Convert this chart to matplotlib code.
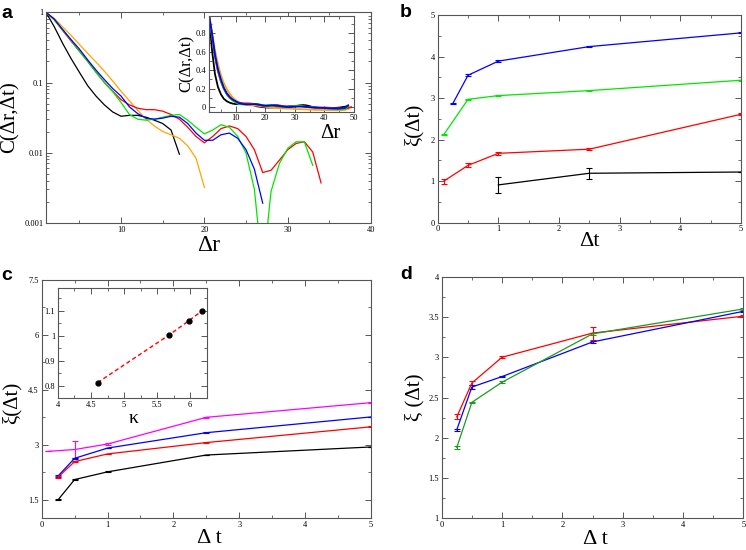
import numpy as np
import matplotlib.pyplot as plt
from matplotlib.ticker import MultipleLocator, FuncFormatter, LogLocator, NullFormatter

plt.rcParams['font.family'] = ['Liberation Serif', 'DejaVu Serif']

# ---- panel a : C(dr, dt), integer dr starting at 1
a_black = [1.0, 0.62, 0.36, 0.22, 0.14, 0.09, 0.064, 0.048, 0.038, 0.033, 0.034, 0.034,
           0.032, 0.029, 0.026, 0.021, 0.0095]
a_orange = [1.0, 0.82, 0.62, 0.47, 0.35, 0.26, 0.195, 0.145, 0.105, 0.075, 0.055, 0.04,
            0.03, 0.024, 0.020, 0.018, 0.016, 0.0125, 0.0083, 0.0032]
a_blue = [1.0, 0.8, 0.57, 0.41, 0.30, 0.21, 0.15, 0.11, 0.082, 0.064, 0.045, 0.036, 0.031,
          0.030, 0.031, 0.033, 0.032, 0.026, 0.019, 0.015, 0.015, 0.018, 0.019, 0.016,
          0.011, 0.0058, 0.0019]
a_red = [1.0, 0.78, 0.55, 0.39, 0.28, 0.2, 0.14, 0.1, 0.075, 0.057, 0.048, 0.043, 0.041,
         0.041, 0.039, 0.035, 0.030, 0.023, 0.017, 0.0138, 0.017, 0.022, 0.024, 0.022,
         0.017, 0.011, 0.0052, 0.0056, 0.0078, 0.011, 0.0135, 0.0143, 0.0102, 0.0037]
a_green = [1.0, 0.78, 0.56, 0.40, 0.28, 0.2, 0.14, 0.1, 0.074, 0.052, 0.035, 0.030, 0.029,
           0.030, 0.032, 0.034, 0.035, 0.029, 0.023, 0.0185, 0.021, 0.025, 0.023, 0.017,
           0.0098, 0.003, 0.0002, 0.0028, 0.007, 0.0115, 0.0143, 0.0142, 0.0066]
# inset tails (values after the end of each main curve, up to dr ~ 48)
tail_black = [0.005, 0.0, -0.003, -0.005, -0.004, -0.003, 0.0, 0.003, 0.005, 0.006, 0.008,
              0.01, 0.012, 0.015, 0.02, 0.022, 0.018, 0.01, 0.0, -0.005, -0.008, -0.01,
              -0.01, -0.012, -0.012, -0.01, -0.008, -0.005, 0.0, 0.005, 0.01]
tail_orange = [0.0, -0.005, -0.008, -0.01, -0.012, -0.013, -0.015, -0.016, -0.018, -0.02,
               -0.022, -0.022, -0.024, -0.025, -0.026, -0.028, -0.03, -0.03, -0.031,
               -0.032, -0.032, -0.033, -0.033, -0.034, -0.034, -0.033, -0.03, -0.02]
tail_blue = [0.0, 0.002, 0.004, 0.006, 0.006, 0.004, 0.002, 0.0, -0.003, -0.005, -0.006,
             -0.008, -0.01, -0.012, -0.014, -0.015, -0.016, -0.015, -0.012, -0.008, 0.02]
tail_red = [-0.002, -0.004, -0.006, -0.006, -0.005, -0.004, -0.006, -0.008, -0.01, -0.01,
            -0.011, -0.012, -0.012, -0.01, 0.0]
tail_green = [0.0, 0.002, 0.0, -0.004, -0.008, -0.01, -0.012, -0.014, -0.016, -0.018,
              -0.02, -0.022, -0.024, -0.02, 0.01]

# ---- panel b : xi(dt)
b_blue_t = [0.25, 0.5, 1, 2.5, 5]
b_blue = [2.87, 3.55, 3.89, 4.24, 4.57]
b_blue_err = [0.02, 0.02, 0.02, 0.01, 0.01]
b_green_t = [0.1, 0.5, 1, 2.5, 5]
b_green = [2.12, 2.97, 3.06, 3.18, 3.43]
b_green_err = [0.02, 0.02, 0.01, 0.01, 0.01]
b_red_t = [0.1, 0.5, 1, 2.5, 5]
b_red = [1.0, 1.38, 1.67, 1.77, 2.61]
b_red_err = [0.06, 0.05, 0.03, 0.02, 0.02]
b_black_t = [1, 2.5, 5]
b_black = [0.91, 1.19, 1.22]
b_black_err = [0.19, 0.13, 0.01]

# ---- panel c
c_t = [0.25, 0.5, 1, 2.5, 5]
c_magenta_t = [0.1, 0.5, 1, 2.5, 5]
c_magenta = [2.82, 2.87, 3.02, 3.75, 4.15]
c_magenta_err = [0.0, 0.24, 0.02, 0.01, 0.01]
c_blue = [2.15, 2.63, 2.91, 3.33, 3.76]
c_blue_err = [0.03, 0.02, 0.01, 0.01, 0.01]
c_red = [2.12, 2.54, 2.75, 3.06, 3.49]
c_red_err = [0.03, 0.02, 0.01, 0.01, 0.01]
c_black = [1.5, 2.05, 2.26, 2.72, 2.94]
c_black_err = [0.02, 0.02, 0.01, 0.01, 0.01]
kappa = [4.6, 5.68, 5.98, 6.18]
kappa_ratio = [0.813, 1.003, 1.06, 1.10]

# ---- panel d
d_t = [0.25, 0.5, 1, 2.5, 5]
d_red = [2.26, 2.68, 3.0, 3.30, 3.51]
d_red_err = [0.03, 0.02, 0.01, 0.08, 0.01]
d_blue = [2.1, 2.63, 2.76, 3.19, 3.57]
d_blue_err = [0.01, 0.02, 0.01, 0.01, 0.01]
d_green = [1.88, 2.44, 2.69, 3.29, 3.6]
d_green_err = [0.02, 0.01, 0.01, 0.01, 0.01]

FRAME = '#555555'
GREEN = '#00E600'
DGREEN = '#1F9A1F'
ORANGE = '#FFA500'
LW = 0.9

fmt = FuncFormatter(lambda v, p: '%g' % v)


def style(ax, xmaj, xmin, ymaj, ymin, size=6):
    for s in ax.spines.values():
        s.set_color(FRAME)
        s.set_linewidth(0.8)
    ax.tick_params(which='both', direction='in', top=True, right=True, colors=FRAME,
                   labelcolor='black', labelsize=size, pad=2)
    ax.tick_params(which='major', length=4, width=0.7)
    ax.tick_params(which='minor', length=2, width=0.6)
    if xmaj:
        ax.xaxis.set_major_locator(MultipleLocator(xmaj))
        ax.xaxis.set_minor_locator(MultipleLocator(xmin))
        ax.xaxis.set_major_formatter(fmt)
    if ymaj:
        ax.yaxis.set_major_locator(MultipleLocator(ymaj))
        ax.yaxis.set_minor_locator(MultipleLocator(ymin))
        ax.yaxis.set_major_formatter(fmt)


def ebar(ax, x, y, e, c, cap=2.5):
    ax.errorbar(x, y, yerr=e, color=c, lw=LW, elinewidth=0.8, capsize=cap, capthick=0.8)


fig = plt.figure(figsize=(7.46, 5.5), dpi=100)

# ================= a
ax = fig.add_axes([0.0617, 0.595, 0.4357, 0.3825])
for vals, c in [(a_black, 'black'), (a_orange, ORANGE), (a_red, 'red'), (a_green, GREEN), (a_blue, 'blue')]:
    ax.plot(np.arange(1, len(vals) + 1), vals, color=c, lw=LW)
ax.set_yscale('log')
ax.set_xlim(1, 40)
ax.set_ylim(0.001, 1)
style(ax, 10, 5, None, None)
ax.yaxis.set_major_locator(LogLocator(base=10))
ax.yaxis.set_minor_locator(LogLocator(base=10, subs=np.arange(2, 10)))
ax.yaxis.set_major_formatter(fmt)
ax.yaxis.set_minor_formatter(NullFormatter())
ax.set_xlabel('Δr', fontsize=17)
ax.xaxis.set_label_coords(0.5, -0.058)
ax.set_ylabel('C(Δr,Δt)', fontsize=15)
ax.yaxis.set_label_coords(-0.082, 0.5)

ins = fig.add_axes([0.2802, 0.7969, 0.1944, 0.174])
for vals, tail, c in [(a_black, tail_black, 'black'), (a_orange, tail_orange, ORANGE),
                      (a_red, tail_red, 'red'), (a_green, tail_green, GREEN), (a_blue, tail_blue, 'blue')]:
    full = list(vals) + list(tail)
    ins.plot(np.arange(1, len(full) + 1), full, color=c, lw=1.3)
ins.set_xlim(1, 50)
ins.set_ylim(-0.05, 0.99)
style(ins, 10, 5, 0.2, 0.1)
ins.set_xlabel('Δr', fontsize=15)
ins.xaxis.set_label_coords(0.834, -0.13)
ins.set_ylabel('C(Δr,Δt)', fontsize=12)
ins.yaxis.set_label_coords(-0.1, 0.5)

# ================= b
ax = fig.add_axes([0.5867, 0.5951, 0.4066, 0.3776])
ebar(ax, b_blue_t, b_blue, b_blue_err, 'blue')
ebar(ax, b_green_t, b_green, b_green_err, GREEN)
ebar(ax, b_red_t, b_red, b_red_err, 'red')
ebar(ax, b_black_t, b_black, b_black_err, 'black')
ax.set_xlim(0, 5)
ax.set_ylim(0, 5)
style(ax, 1, 0.5, 1, 0.5)
ax.set_xlabel('Δt', fontsize=16)
ax.xaxis.set_label_coords(0.5, -0.045)
ax.set_ylabel('ξ(Δt)', fontsize=15)
ax.yaxis.set_label_coords(-0.045, 0.47)

# ================= c
ax = fig.add_axes([0.0559, 0.0582, 0.4414, 0.4327])
ebar(ax, c_magenta_t, c_magenta, c_magenta_err, '#FF00FF')
ebar(ax, c_t, c_blue, c_blue_err, 'blue')
ebar(ax, c_t, c_red, c_red_err, 'red')
ebar(ax, c_t, c_black, c_black_err, 'black')
ax.set_xlim(0, 5)
ax.set_ylim(1, 7.5)
style(ax, 1, 0.5, 1.5, 0.75)
ax.set_xlabel('Δ t', fontsize=16)
ax.xaxis.set_label_coords(0.51, -0.045)
ax.set_ylabel('ξ(Δt)', fontsize=15)
ax.yaxis.set_label_coords(-0.062, 0.483)

ins = fig.add_axes([0.0777, 0.2758, 0.1993, 0.2])
ins.plot(kappa, kappa_ratio, color='red', lw=1.0, ls=(0, (3, 2)))
ins.plot(kappa, kappa_ratio, 'o', color='black', ms=3.5)
ins.set_xlim(4, 6.25)
ins.set_ylim(0.75, 1.19)
style(ins, 0.5, 0.25, 0.1, 0.05)
ins.set_xlabel('κ', fontsize=14)
ins.xaxis.set_label_coords(0.506, -0.11)

# ================= d
ax = fig.add_axes([0.5921, 0.0576, 0.4043, 0.4393])
ebar(ax, d_t, d_red, d_red_err, 'red')
ebar(ax, d_t, d_blue, d_blue_err, 'blue')
ebar(ax, d_t, d_green, d_green_err, DGREEN)
ax.set_xlim(0, 5)
ax.set_ylim(1, 4)
style(ax, 1, 0.5, 0.5, 0.25)
ax.set_xlabel('Δ t', fontsize=16)
ax.xaxis.set_label_coords(0.51, -0.05)
ax.set_ylabel('ξ (Δt)', fontsize=15)
ax.yaxis.set_label_coords(-0.058, 0.503)

# panel letters
for s, x, y in [('a', 0.002, 0.967), ('b', 0.536, 0.969), ('c', 0.002, 0.491), ('d', 0.536, 0.493)]:
    fig.text(x, y, s, fontsize=14, fontweight='bold', family=['Liberation Sans', 'DejaVu Sans'],
             va='baseline', ha='left')

fig.savefig('out.png', dpi=100)
